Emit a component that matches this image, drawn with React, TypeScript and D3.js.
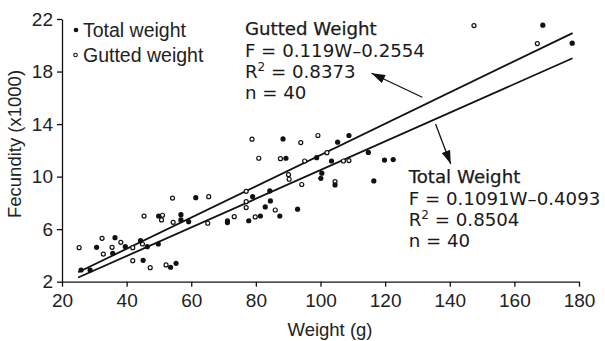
import React, { useRef, useEffect } from 'react';
import * as d3 from 'd3';

// [weight (g), fecundity (x1000)]
const totalWeight: [number, number][] = [
  [25.9, 2.89], [28.7, 2.89], [30.7, 4.62], [35.7, 4.16], [36.4, 5.35],
  [39.6, 4.67], [44.3, 5.12], [45.1, 3.63], [46.4, 4.67], [49.8, 4.87],
  [49.9, 7.0], [53.6, 3.1], [55.3, 3.4], [56.8, 7.1], [56.8, 6.7],
  [59.2, 6.57], [61.4, 8.4], [71.2, 6.64], [71.2, 6.5], [77.8, 6.64],
  [79.0, 8.47], [81.4, 7.0], [82.9, 7.69], [84.3, 8.91], [84.5, 8.15],
  [87.4, 7.0], [88.4, 12.87], [89.3, 11.4], [92.9, 7.52], [98.8, 11.44],
  [100.4, 10.26], [100.1, 9.87], [103.4, 11.19], [104.5, 9.37], [105.3, 12.62],
  [108.8, 13.13], [114.8, 11.84], [116.5, 9.67], [119.8, 11.26], [122.5, 11.3],
  [168.8, 21.53], [177.9, 20.16],
];

const guttedWeight: [number, number][] = [
  [25.3, 4.59], [32.4, 5.3], [32.8, 4.1], [35.5, 4.62], [38.2, 5.0],
  [41.9, 3.6], [41.9, 4.59], [44.9, 4.87], [45.4, 7.0], [47.3, 3.07],
  [51.1, 7.06], [50.8, 6.7], [52.2, 3.28], [54.2, 8.37], [54.4, 6.52],
  [65.4, 8.47], [65.1, 6.45], [73.3, 6.95], [77.0, 8.88], [77.0, 8.09],
  [77.0, 7.64], [79.8, 6.93], [86.0, 7.46], [90.1, 10.15], [90.3, 9.8],
  [78.8, 12.85], [80.9, 11.4], [87.6, 11.37], [93.9, 12.59], [99.2, 13.13],
  [95.1, 11.19], [102.0, 11.82], [107.1, 11.19], [108.8, 11.22], [94.2, 9.4],
  [104.5, 9.62], [147.5, 21.5], [167.1, 20.13],
];

const xTicks = [20, 40, 60, 80, 100, 120, 140, 160, 180];
const yTicks = [2, 6, 10, 14, 18, 22];
const fitRange = [25, 178];

const guttedFit = { slope: 0.119, intercept: -0.2554 };
const totalFit = { slope: 0.1091, intercept: -0.4093 };

const guttedLabel = ['Gutted Weight', 'F = 0.119W–0.2554', '0.8373', 'n = 40'];
const totalLabel = ['Total Weight', 'F = 0.1091W–0.4093', '0.8504', 'n = 40'];

// label anchor [W, F] and arrow [from W, from F, to W, to F]
const guttedAnchor = [76.6, 20.8];
const totalAnchor = [127.3, 9.5];
const guttedArrow = [131.5, 16.04, 115.8, 17.87];
const totalArrow = [135.6, 14.0, 140.3, 10.96];

const legendItems = ['Total weight', 'Gutted weight'];

const App = () => {
  const ref = useRef<SVGSVGElement>(null);

  useEffect(() => {
    const svg = d3.select(ref.current);
    svg.selectAll('*').remove();

    const x = d3.scaleLinear().domain([20, 180]).range([62, 579]);
    const y = d3.scaleLinear().domain([2, 22]).range([281.7, 19]);
    const tickFont = '"Liberation Sans", Arial, sans-serif';
    const noteFont = '"DejaVu Sans", Verdana, sans-serif';

    svg.append('defs').append('marker')
      .attr('id', 'head')
      .attr('markerUnits', 'userSpaceOnUse')
      .attr('viewBox', '0 0 12 8')
      .attr('markerWidth', 14)
      .attr('markerHeight', 9)
      .attr('refX', 12)
      .attr('refY', 4)
      .attr('orient', 'auto')
      .append('path')
      .attr('d', 'M0,0 L12,4 L0,8 Z')
      .attr('fill', '#111');

    const xAxis = svg.append('g')
      .attr('transform', `translate(0,${y(2)})`)
      .call(d3.axisBottom(x).tickValues(xTicks).tickSize(5).tickPadding(7).tickSizeOuter(0));
    const yAxis = svg.append('g')
      .attr('transform', `translate(${x(20)},0)`)
      .call(d3.axisLeft(y).tickValues(yTicks).tickSize(5).tickPadding(4).tickSizeOuter(0));

    [xAxis, yAxis].forEach(g => {
      g.attr('font-family', tickFont).attr('font-size', 19);
      g.selectAll('path, line').attr('stroke', '#111').attr('stroke-width', 1.3);
      g.selectAll('text').attr('fill', '#222');
    });

    svg.append('text')
      .attr('x', 330)
      .attr('y', 336)
      .attr('text-anchor', 'middle')
      .attr('font-family', tickFont)
      .attr('font-size', 18.5)
      .attr('fill', '#222')
      .text('Weight (g)');

    svg.append('text')
      .attr('transform', 'translate(21,144) rotate(-90)')
      .attr('text-anchor', 'middle')
      .attr('font-family', tickFont)
      .attr('font-size', 18.5)
      .attr('fill', '#222')
      .text('Fecundity (x1000)');

    // fit lines
    [guttedFit, totalFit].forEach(f => {
      svg.append('line')
        .attr('x1', x(fitRange[0]))
        .attr('y1', y(f.slope * fitRange[0] + f.intercept))
        .attr('x2', x(fitRange[1]))
        .attr('y2', y(f.slope * fitRange[1] + f.intercept))
        .attr('stroke', '#111')
        .attr('stroke-width', 1.8);
    });

    svg.append('g')
      .selectAll('circle')
      .data(guttedWeight)
      .enter()
      .append('circle')
      .attr('cx', d => x(d[0]))
      .attr('cy', d => y(d[1]))
      .attr('r', 2)
      .attr('fill', 'white')
      .attr('stroke', '#111')
      .attr('stroke-width', 1.2);

    svg.append('g')
      .selectAll('circle')
      .data(totalWeight)
      .enter()
      .append('circle')
      .attr('cx', d => x(d[0]))
      .attr('cy', d => y(d[1]))
      .attr('r', 2.6)
      .attr('fill', '#111');

    // legend
    const legend = svg.append('g').attr('font-family', tickFont).attr('font-size', 19.5).attr('fill', '#222');
    legendItems.forEach((name, i) => {
      const cy = 30 + i * 25;
      if (i === 0) {
        legend.append('circle').attr('cx', 76).attr('cy', cy).attr('r', 2.3).attr('fill', '#111');
      } else {
        legend.append('circle').attr('cx', 75.5).attr('cy', cy).attr('r', 1.8)
          .attr('fill', 'white').attr('stroke', '#111').attr('stroke-width', 1.1);
      }
      legend.append('text').attr('x', 83).attr('y', cy + 7).text(name);
    });

    // annotations
    const note = (label: string[], anchor: number[], top: number) => {
      const g = svg.append('g')
        .attr('font-family', noteFont)
        .attr('font-size', 18.2)
        .attr('fill', '#1a1a1a');
      const ax = x(anchor[0]);
      const lh = [0, 22, 43, 64];
      g.append('text').attr('x', ax).attr('y', top)
        .attr('stroke', '#1a1a1a').attr('stroke-width', 0.25).text(label[0]);
      g.append('text').attr('x', ax).attr('y', top + lh[1]).text(label[1]);
      const r = g.append('text').attr('x', ax).attr('y', top + lh[2]);
      r.append('tspan').text('R');
      r.append('tspan').attr('font-size', 12).attr('dy', -7).text('2');
      r.append('tspan').attr('dy', 7).text(' = ' + label[2]);
      g.append('text').attr('x', ax).attr('y', top + lh[3]).text(label[3]);
    };
    note(guttedLabel, guttedAnchor, y(guttedAnchor[1]));
    note(totalLabel, totalAnchor, y(totalAnchor[1]));

    [guttedArrow, totalArrow].forEach(a => {
      svg.append('line')
        .attr('x1', x(a[0])).attr('y1', y(a[1]))
        .attr('x2', x(a[2])).attr('y2', y(a[3]))
        .attr('stroke', '#111')
        .attr('stroke-width', 1.3)
        .attr('marker-end', 'url(#head)');
    });
  }, []);

  return (
    <svg
      ref={ref}
      width={605}
      height={341}
      style={{ position: 'absolute', left: 0, top: 0, background: 'white' }}
    />
  );
};

export default App;
